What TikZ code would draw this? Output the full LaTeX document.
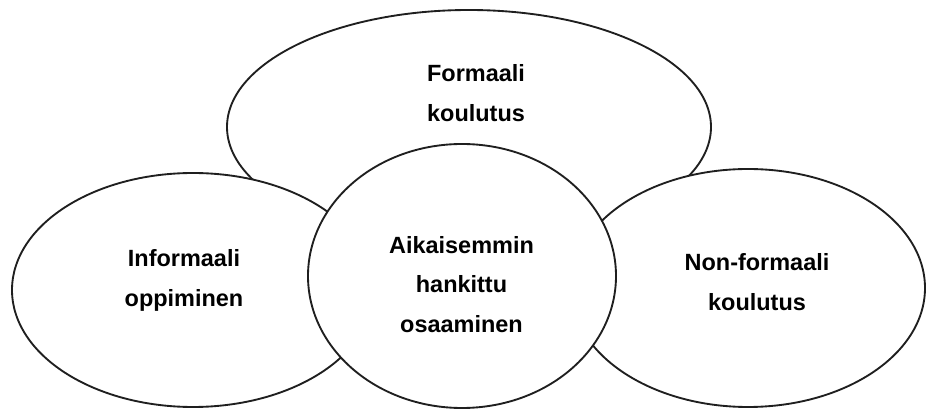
\documentclass[tikz,border=0pt]{standalone}
\usepackage{fontspec}
\setmainfont{Liberation Sans}
\usetikzlibrary{shapes.geometric}

\begin{document}
\begin{tikzpicture}[x=0.75pt, y=-0.75pt,
  blob/.style={ellipse, draw=black!88, line width=1.4pt, fill=white, inner sep=0pt},
  lbl/.style={align=center, inner sep=0pt, font=\fontsize{17.6pt}{29.6pt}\selectfont\bfseries}]
\useasboundingbox (0,0) rectangle (926,409);
\node[blob, minimum width=363pt, minimum height=175.5pt] (f) at (469,127) {};
\node[blob, minimum width=271.5pt, minimum height=175.5pt] (i) at (193,290) {};
\node[blob, minimum width=265.5pt, minimum height=178.5pt] (n) at (748,288) {};
\node[blob, minimum width=231pt, minimum height=198pt] (a) at (462,276) {};
\node[lbl] (ft) at (476,93) {Formaali\\koulutus};
\node[lbl] (it) at (184,280.5) {Informaali\\oppiminen};
\node[lbl] (at) at (461.5,284.5) {Aikaisemmin\\hankittu\\osaaminen};
\node[lbl] (nt) at (757,282) {Non-formaali\\koulutus};
\end{tikzpicture}
\end{document}
